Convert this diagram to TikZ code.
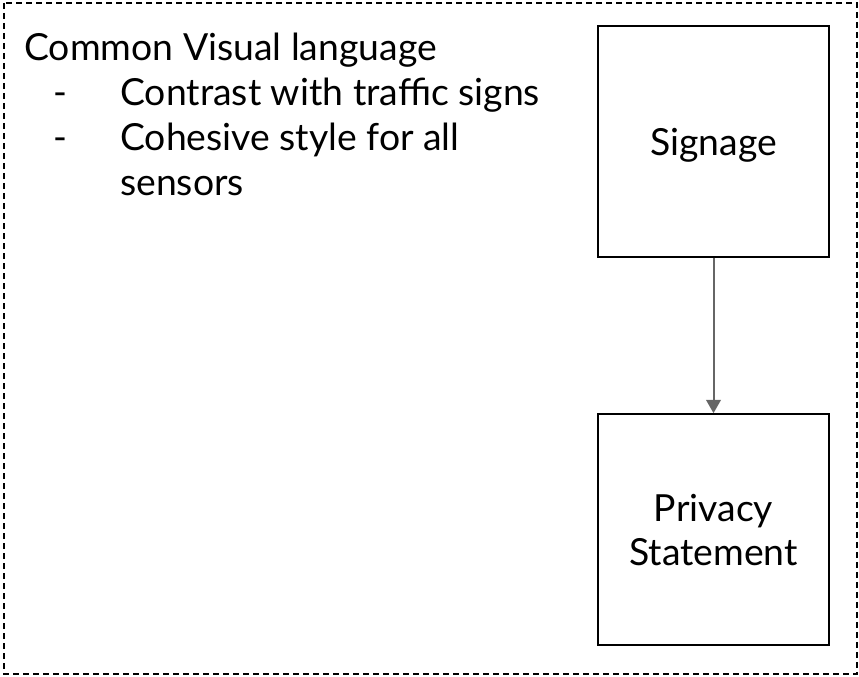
\documentclass[tikz,border=0pt]{standalone}
\usepackage{fontspec}
\setmainfont{Lato}
\usetikzlibrary{arrows.meta}

\begin{document}
\begin{tikzpicture}[x = 0.75pt, y = -0.75pt,
    every node/.style = {font=\fontsize{28}{33}\selectfont, inner sep=0pt},
    stage/.style = {draw, line width=1.5pt, minimum width=173pt, minimum height=173pt, align=center, text depth=0pt}]
    \useasboundingbox (0,0) rectangle (859,677);
    \draw[line width=1.1pt, dash pattern=on 4.5pt off 3pt]
    (4,3) rectangle (857,674);
    \node[anchor=base west] (title) at (24,61) {Common Visual language};
    \node[anchor=base west] (dashA) at (53,106) {-};
    \node[anchor=base west] (itemA) at (120,106) {Contrast with traffic signs};
    \node[anchor=base west] (dashB) at (53,151) {-};
    \node[anchor=base west] (itemB) at (120,151) {Cohesive style for all};
    \node[anchor=base west] (itemBb) at (120,196) {sensors};
    \node[stage] (signage) at (713.5,141.5) {Signage};
    \node[stage] (privacy) at (713.5,529.5) {Privacy\\Statement};
    \draw[draw=black!60, line width=1.5pt, -{Triangle[width=11pt, length=10pt]}]
    (signage) -- (privacy);
\end{tikzpicture}
\end{document}
